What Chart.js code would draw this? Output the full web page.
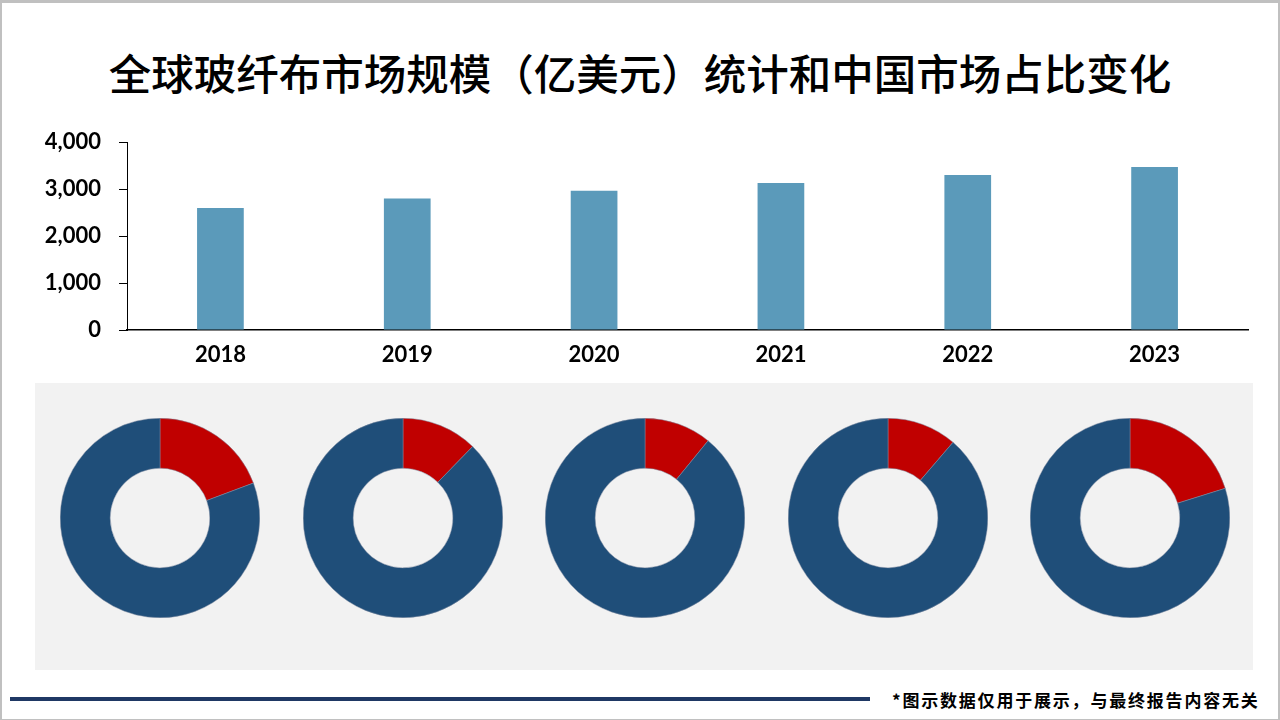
<!DOCTYPE html>
<html>
<head>
<meta charset="utf-8">
<script src="https://cdn.jsdelivr.net/npm/chart.js@4.4.1/dist/chart.umd.min.js"></script>
<style>
  html, body { margin: 0; padding: 0; }
  body { width: 1280px; height: 720px; position: relative; overflow: hidden; background: #fff; }
  .frame { position: absolute; left: 0; top: 0; width: 1276px; height: 716px; border: 2px solid #c0c0c0; border-top-width: 3px; box-sizing: content-box; }
  .title { position: absolute; left: 0; top: 44px; width: 1280px; text-align: center; font-family: "Noto Sans CJK SC", sans-serif; font-weight: 500; font-size: 42.5px; color: #000; line-height: 56px; }
  #barWrap { position: absolute; left: 0; top: 111px; width: 1260px; height: 259px; }
  .panel { position: absolute; left: 35px; top: 383px; width: 1218px; height: 287px; background: #f2f2f2; }
  .donut { position: absolute; width: 200px; height: 200px; top: 418px; }
  .footline { position: absolute; left: 10px; top: 697px; width: 860px; height: 4px; background: #1f3864; }
  .note { position: absolute; left: 892px; top: 688px; font-family: "Noto Sans CJK SC", sans-serif; font-weight: 700; font-size: 17px; letter-spacing: 1.8px; color: #000; line-height: 24px; white-space: nowrap; }
</style>
</head>
<body>
<div class="frame"></div>
<div class="title">全球玻纤布市场规模（亿美元）统计和中国市场占比变化</div>
<div id="barWrap"><canvas id="barChart"></canvas></div>
<div class="panel"></div>
<div id="donuts"></div>
<div class="footline"></div>
<div class="note">*图示数据仅用于展示，与最终报告内容无关</div>

<script>
/* ── DATA ───────────────────────────────────────────── */
const years = ['2018', '2019', '2020', '2021', '2022', '2023'];
const marketSize = [2600, 2800, 2965, 3130, 3300, 3470];
const yTicks = [0, 1000, 2000, 3000, 4000];

// China share (%) for the five rings, left to right
const shareYears = ['2019', '2020', '2021', '2022', '2023'];
const chinaShare = [19.3, 12.3, 10.9, 11.3, 20.2];

const BAR_COLOR = '#5b9aba';
const CHINA_COLOR = '#c00000';
const REST_COLOR = '#1f4e79';

/* ── BAR CHART ──────────────────────────────────────── */
new Chart(document.getElementById('barChart'), {
  type: 'bar',
  data: {
    labels: years,
    datasets: [{
      data: marketSize,
      backgroundColor: BAR_COLOR,
      barPercentage: 0.5,
      categoryPercentage: 0.5,
    }]
  },
  options: {
    responsive: true,
    maintainAspectRatio: false,
    animation: false,
    layout: { padding: { top: 2, right: 12, bottom: 0, left: 0 } },
    plugins: { legend: { display: false }, tooltip: { enabled: false } },
    scales: {
      x: {
        grid: { display: false },
        border: { color: '#000', width: 1.5 },
        ticks: { color: '#000', padding: 4, font: { family: 'Lato', weight: 'bold', size: 22 } },
        afterFit(scale) { scale.height = 40; }
      },
      y: {
        min: 0,
        max: 4000,
        afterBuildTicks(scale) { scale.ticks = yTicks.map(v => ({ value: v })); },
        grid: { drawOnChartArea: false, tickLength: 8, color: '#000' },
        border: { color: '#000', width: 1 },
        ticks: {
          color: '#000',
          padding: 18,
          font: { family: 'Lato', weight: 'bold', size: 22 },
          callback: v => v.toLocaleString('en-US')
        },
        afterFit(scale) { scale.width = 127; }
      }
    }
  }
});

/* ── DONUTS ─────────────────────────────────────────── */
const donutHost = document.getElementById('donuts');
chinaShare.forEach((share, i) => {
  const wrap = document.createElement('div');
  wrap.className = 'donut';
  wrap.style.left = (60 + i * 242.5) + 'px';
  const cv = document.createElement('canvas');
  wrap.appendChild(cv);
  donutHost.appendChild(wrap);

  new Chart(cv, {
    type: 'doughnut',
    data: {
      labels: ['中国', '其他'],
      datasets: [{
        data: [share, 100 - share],
        backgroundColor: [CHINA_COLOR, REST_COLOR],
        borderColor: '#7f8aa0',
        borderWidth: 0.5,
      }]
    },
    options: {
      responsive: true,
      maintainAspectRatio: false,
      animation: false,
      cutout: '50%',
      plugins: { legend: { display: false }, tooltip: { enabled: false } }
    }
  });
});
</script>
</body>
</html>
